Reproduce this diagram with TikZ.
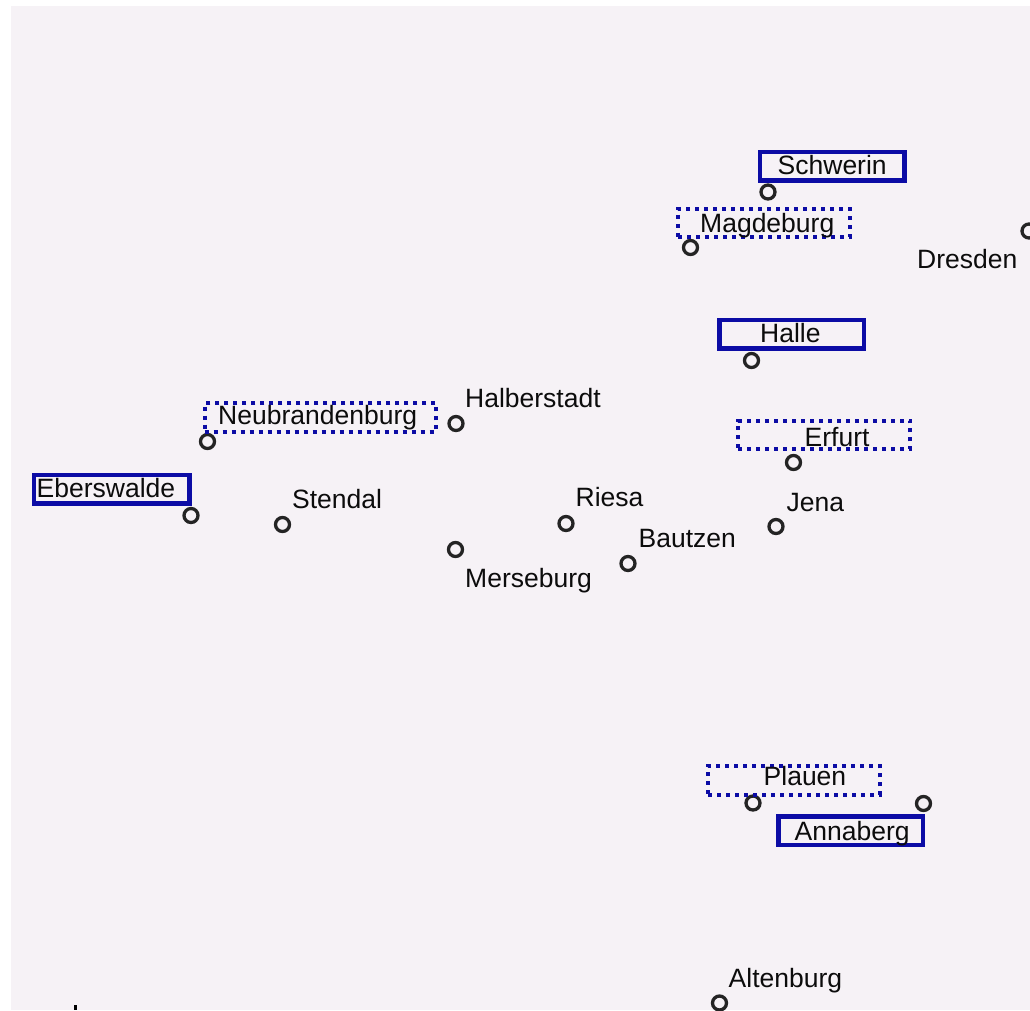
\documentclass[tikz,border=0pt]{standalone}
\usepackage{fontspec}
\setmainfont{Liberation Sans}
\definecolor{paper}{RGB}{246,242,246}
\definecolor{frameblue}{RGB}{12,12,165}
\definecolor{ink}{RGB}{12,12,12}
\definecolor{ringgray}{RGB}{36,36,36}
\begin{document}
\begin{tikzpicture}[x=1pt,y=-1pt,
  town/.style={circle,draw=ringgray,line width=3.3pt,minimum size=14pt,inner sep=0pt},
  townname/.style={anchor=base west,inner sep=0pt,text=ink,font=\fontsize{26.5}{30}\selectfont},
  solidbox/.style={rectangle,draw=frameblue,line width=4.5pt,inner sep=0pt,minimum height=28.5pt},
  dotbox/.style={rectangle,draw=frameblue,line width=4pt,dash pattern=on 4pt off 5pt,inner sep=0pt,minimum height=28.5pt}]
  % canvas
  \path[use as bounding box] (0,0) rectangle (1030,1010);
  \fill[white] (0,0) rectangle (1030,1010);
  \fill[paper] (11,6) rectangle (1030,1010);
  \draw[black,line width=3.5pt] (75.3,1005) -- (75.3,1010);

  % town markers
  \node[town] (schwerin)      at (768,192) {};
  \node[town] (magdeburg)     at (690.5,247.5) {};
  \node[town] (dresden)       at (1029,231) {};
  \node[town] (halle)         at (751.5,360.5) {};
  \node[town] (erfurt)        at (793.5,462.5) {};
  \node[town] (halberstadt)   at (456,423.5) {};
  \node[town] (neubrandenburg) at (207.5,441.5) {};
  \node[town] (eberswalde)    at (191,515.5) {};
  \node[town] (stendal)       at (282.5,524.5) {};
  \node[town] (merseburg)     at (455.5,549.5) {};
  \node[town] (riesa)         at (566,523.5) {};
  \node[town] (bautzen)       at (628,563.5) {};
  \node[town] (jena)          at (776,526.5) {};
  \node[town] (plauen)        at (753,803) {};
  \node[town] (annaberg)      at (923.5,803.5) {};
  \node[town] (altenburg)     at (719.5,1003) {};

  % label frames
  \node[solidbox,minimum width=144.5pt] (schwerinbox)  at (832.25,166.4) {};
  \node[dotbox,minimum width=171.7pt]   (magdeburgbox) at (763.85,223) {};
  \node[solidbox,minimum width=144.3pt] (hallebox)     at (791.65,334) {};
  \node[dotbox,minimum width=172pt]     (erfurtbox)    at (824,435) {};
  \node[dotbox,minimum width=231.6pt]   (neubrandenburgbox) at (320.5,417.5) {};
  \node[solidbox,minimum width=155.5pt] (eberswaldebox) at (111.75,489.25) {};
  \node[dotbox,minimum width=171.7pt]   (plauenbox)    at (793.85,780.35) {};
  \node[solidbox,minimum width=144.5pt] (annabergbox)  at (850.55,830.75) {};

  % town names
  \node[townname] (schwerinlbl)   at (777.5,174) {Schwerin};
  \node[townname] (magdeburglbl)  at (700,232) {Magdeburg};
  \node[townname] (dresdenlbl)    at (917,268) {Dresden};
  \node[townname] (hallelbl)      at (760,342) {Halle};
  \node[townname] (erfurtlbl)     at (804.5,446.5) {Erfurt};
  \node[townname] (halberstadtlbl) at (465,407.5) {Halberstadt};
  \node[townname] (neubrandenburglbl) at (218,424) {Neubrandenburg};
  \node[townname] (eberswaldelbl) at (36.5,497) {Eberswalde};
  \node[townname] (stendallbl)    at (292,508) {Stendal};
  \node[townname] (riesalbl)      at (575.5,506) {Riesa};
  \node[townname] (merseburglbl)  at (465,587) {Merseburg};
  \node[townname] (bautzenlbl)    at (638.5,547) {Bautzen};
  \node[townname] (jenalbl)       at (786.5,511) {Jena};
  \node[townname] (plauenlbl)     at (763.5,785.5) {Plauen};
  \node[townname] (annaberglbl)   at (794.5,840.5) {Annaberg};
  \node[townname] (altenburglbl)  at (728.5,987) {Altenburg};
\end{tikzpicture}
\end{document}
